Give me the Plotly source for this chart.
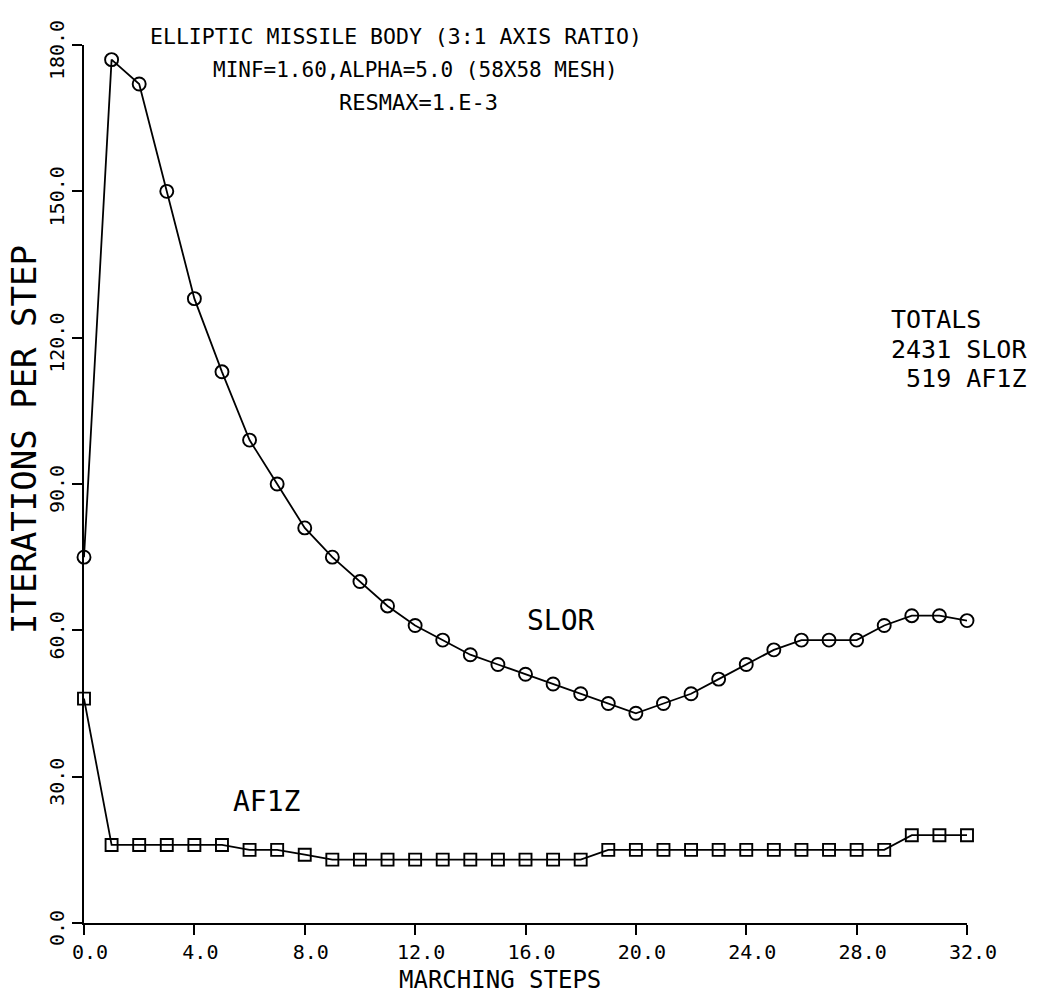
import plotly.graph_objects as go

# Marching step index (0 .. 32)
steps = list(range(33))

# Iterations needed per marching step
slor_iters = [75, 177, 172, 150, 128, 113, 99, 90, 81, 75, 70, 65, 61, 58, 55, 53,
              51, 49, 47, 45, 43, 45, 47, 50, 53, 56, 58, 58, 58, 61, 63, 63, 62]
af1z_iters = [46, 16, 16, 16, 16, 16, 15, 15, 14, 13, 13, 13, 13, 13, 13, 13,
              13, 13, 13, 15, 15, 15, 15, 15, 15, 15, 15, 15, 15, 15, 18, 18, 18]

x_ticks = [0, 4, 8, 12, 16, 20, 24, 28, 32]
x_tick_text = ["0.0", "4.0", "8.0", "12.0", "16.0", "20.0", "24.0", "28.0", "32.0"]
y_ticks = [0, 30, 60, 90, 120, 150, 180]
y_tick_text = ["0.0", "30.0", "60.0", "90.0", "120.0", "150.0", "180.0"]

title_lines = ["ELLIPTIC MISSILE BODY (3:1 AXIS RATIO)",
               "MINF=1.60,ALPHA=5.0 (58X58 MESH)",
               "RESMAX=1.E-3"]
totals_lines = ["TOTALS", f"{sum(slor_iters)} SLOR", f" {sum(af1z_iters)} AF1Z"]

FONT = "DejaVu Sans Mono"
INK = "black"

W, H = 1053, 998
L, R, T, B = 84, 86, 45, 75
PW, PH = W - L - R, H - T - B


def px(x):
    return (x - L) / PW


def py(y):
    return (H - B - y) / PH


fig = go.Figure()

fig.add_trace(go.Scatter(
    x=steps, y=slor_iters, mode="lines+markers", name="SLOR",
    line=dict(color=INK, width=1.8),
    marker=dict(symbol="circle-open", size=13, color=INK, line=dict(width=1.9)),
    cliponaxis=False,
))
fig.add_trace(go.Scatter(
    x=steps, y=af1z_iters, mode="lines+markers", name="AF1Z",
    line=dict(color=INK, width=1.8),
    marker=dict(symbol="square-open", size=12, color=INK, line=dict(width=1.9)),
    cliponaxis=False,
))

annotations = []
# title block
for text, cx, cy, fs in zip(title_lines, [396, 415, 418], [36, 70, 102], [21.5, 21, 22]):
    annotations.append(dict(text=text, xref="paper", yref="paper", x=px(cx), y=py(cy),
                            xanchor="center", yanchor="middle", showarrow=False,
                            font=dict(family=FONT, size=fs, color=INK)))
# totals block
for text, cy in zip(totals_lines, [319, 349, 379]):
    annotations.append(dict(text=text, xref="paper", yref="paper", x=px(889), y=py(cy),
                            xanchor="left", yanchor="middle", showarrow=False,
                            font=dict(family=FONT, size=25, color=INK)))
# curve labels
annotations.append(dict(text="SLOR", x=17.3, y=62, xref="x", yref="y", showarrow=False,
                        xanchor="center", yanchor="middle",
                        font=dict(family=FONT, size=28, color=INK)))
annotations.append(dict(text="AF1Z", x=6.6, y=25, xref="x", yref="y", showarrow=False,
                        xanchor="center", yanchor="middle",
                        font=dict(family=FONT, size=28, color=INK)))
# axis titles
annotations.append(dict(text="MARCHING STEPS", xref="paper", yref="paper",
                        x=px(500), y=py(980), xanchor="center", yanchor="middle",
                        showarrow=False, font=dict(family=FONT, size=24, color=INK)))
annotations.append(dict(text="ITERATIONS PER STEP", xref="paper", yref="paper",
                        x=px(24), y=py(440), xanchor="center", yanchor="middle",
                        textangle=-90, showarrow=False,
                        font=dict(family=FONT, size=34, color=INK)))

fig.update_layout(
    width=W, height=H,
    margin=dict(l=L, r=R, t=T, b=B, pad=0),
    paper_bgcolor="white", plot_bgcolor="white",
    showlegend=False,
    annotations=annotations,
    font=dict(family=FONT, color=INK),
)

fig.update_xaxes(
    range=[0, 32], tickmode="array", tickvals=x_ticks, ticktext=x_tick_text,
    showgrid=False, zeroline=False, showline=True, linecolor=INK, linewidth=2,
    ticks="outside", ticklen=10, tickwidth=2, tickcolor=INK, ticklabelshift=6,
    tickfont=dict(family=FONT, size=20, color=INK),
)
fig.update_yaxes(
    range=[0, 180], tickmode="array", tickvals=y_ticks, ticktext=y_tick_text,
    showgrid=False, zeroline=False, showline=True, linecolor=INK, linewidth=2,
    ticks="outside", ticklen=10, tickwidth=2, tickcolor=INK, tickangle=-90,
    ticklabelshift=8,
    tickfont=dict(family=FONT, size=20, color=INK),
)

fig.write_html("out.html")
